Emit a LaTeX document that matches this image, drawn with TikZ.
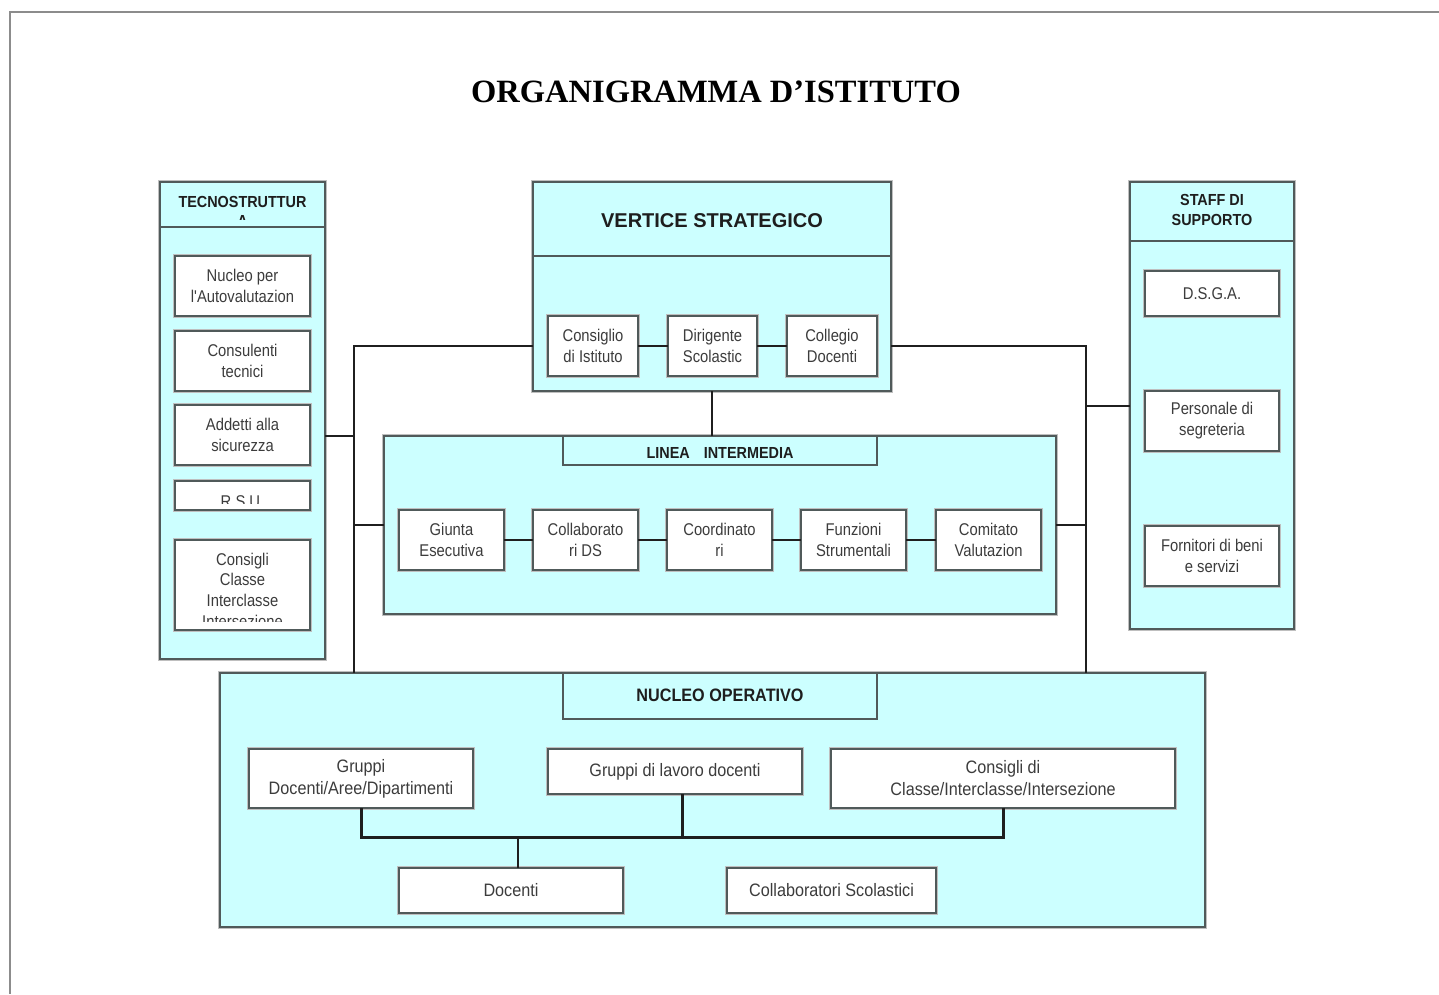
\documentclass[tikz,border=0pt]{standalone}
\usepackage{fontspec}
\setmainfont{Liberation Serif}
\newfontfamily\bxf[FakeStretch=0.87]{Liberation Sans}
\newfontfamily\hdf[FakeStretch=0.9]{Liberation Sans}
\newfontfamily\vsf{Liberation Sans}
\newcommand{\boxfont}{\bxf\fontsize{17}{21}\selectfont}
\newcommand{\nucfont}{\hdf\fontsize{18}{22}\selectfont}
\newcommand{\headfont}{\hdf\bfseries\fontsize{16}{20}\selectfont}
\definecolor{cyanfill}{RGB}{204,255,255}
\definecolor{bordc}{RGB}{80,90,90}
\definecolor{txtc}{RGB}{60,60,60}
\definecolor{hdc}{RGB}{30,30,30}
\newcommand{\rbox}[7][]{\node[#1, minimum width={#5-#3}, minimum height={#6-#4}] (#2) at ({(#3+#5)/2},{(#4+#6)/2}) {#7};}
\begin{document}
\begin{tikzpicture}[x=1pt,y=-1pt,
  outerbox/.style={draw=bordc, line width=1.5pt, fill=cyanfill, inner sep=0pt, outer sep=0pt,
    preaction={draw=black!25, line width=3.5pt}},
  inbox/.style={draw=bordc, line width=1.5pt, fill=white, inner sep=0pt, outer sep=0pt,
    align=center, text=txtc, font=\boxfont, preaction={draw=black!25, line width=3.5pt}},
  nbox/.style={inbox, font=\nucfont},
  hdrbox/.style={draw=bordc, line width=1.5pt, fill=cyanfill, inner sep=0pt, outer sep=0pt},
  divider/.style={draw=bordc, line width=1.5pt},
  lbl/.style={inner sep=0pt, outer sep=0pt, align=center},
  hlbl/.style={lbl, text=hdc, font=\headfont},
  link/.style={draw=black!88, line width=2pt, line join=miter},
  thicklink/.style={draw=black!88, line width=3pt, line join=miter}
]
\useasboundingbox (0,0) rectangle (1439,994);
\fill[white] (0,0) rectangle (1439,994);
% page edge
\draw[black!45, line width=2pt] (1439,12) -- (10,12) -- (10,994);

% title
\node[lbl, font=\bfseries\fontsize{32.5}{38}\selectfont, text=black] (title) at (716,92) {ORGANIGRAMMA D’ISTITUTO};

% outer boxes
\rbox[outerbox]{tec}{160}{182}{325}{659}{}
\rbox[outerbox]{ver}{533}{182}{891}{391}{}
\rbox[outerbox]{lin}{384}{436}{1056}{614}{}
\rbox[outerbox]{sta}{1130}{182}{1294}{629}{}
\rbox[outerbox]{nuc}{220}{673}{1205}{927}{}

% dividers / headers
\draw[divider] (tec.west |- 0,227) -- (tec.east |- 0,227);
\draw[divider] (ver.west |- 0,256) -- (ver.east |- 0,256);
\draw[divider] (sta.west |- 0,241) -- (sta.east |- 0,241);
\rbox[hdrbox]{lhd}{563}{436}{877}{465}{}
\rbox[hdrbox]{nhd}{563}{673}{877}{719}{}

\begin{scope}
  \clip (161,183) rectangle (324,219.5);
  \node[hlbl, font=\hdf\bfseries\fontsize{16}{18.4}\selectfont, anchor=north] (ttitle) at (242.5,196.8) {TECNOSTRUTTUR\\A};
\end{scope}
\node[lbl, text=hdc, font=\vsf\bfseries\fontsize{20}{24}\selectfont] (vtitle) at (712,221) {VERTICE STRATEGICO};
\node[hlbl] (stitle) at (1212,210) {STAFF DI\\SUPPORTO};
\node[hlbl] (ltitle) at (720,452.5) {LINEA\hspace{14pt}INTERMEDIA};
\node[lbl, text=hdc, font=\hdf\bfseries\fontsize{18}{22}\selectfont] (ntitle) at (720,695.5) {NUCLEO OPERATIVO};

% tecnostruttura
\rbox[inbox]{t1}{175}{256}{310}{316}{Nucleo per\\l'Autovalutazion}
\rbox[inbox]{t2}{175}{331}{310}{391}{Consulenti\\tecnici}
\rbox[inbox]{t3}{175}{405}{310}{465}{Addetti alla\\sicurezza}
\rbox[inbox]{t4}{175}{481}{310}{510}{}
\rbox[inbox]{t5}{175}{540}{310}{630}{}
\begin{scope}
  \clip (176,482) rectangle (309,503.5);
  \node[lbl, text=txtc, font=\boxfont, anchor=base] (t4txt) at (242.5,507.5) {R.S.U.};
\end{scope}
\begin{scope}
  \clip (176,541) rectangle (309,621.7);
  \node[lbl, text=txtc, font=\bxf\fontsize{17}{20.7}\selectfont, anchor=north] (t5txt) at (242.5,552.8) {Consigli\\Classe\\Interclasse\\Intersezione};
\end{scope}

% vertice strategico
\rbox[inbox]{v1}{548}{316}{638}{376}{Consiglio\\di Istituto}
\rbox[inbox]{v2}{668}{316}{757}{376}{Dirigente\\Scolastic}
\rbox[inbox]{v3}{787}{316}{877}{376}{Collegio\\Docenti}

% linea intermedia
\rbox[inbox]{l1}{399}{510}{504}{570}{Giunta\\Esecutiva}
\rbox[inbox]{l2}{533}{510}{638}{570}{Collaborato\\ri DS}
\rbox[inbox]{l3}{667}{510}{772}{570}{Coordinato\\ri}
\rbox[inbox]{l4}{801}{510}{906}{570}{Funzioni\\Strumentali}
\rbox[inbox]{l5}{936}{510}{1041}{570}{Comitato\\Valutazion}

% staff
\rbox[inbox]{s1}{1145}{271}{1279}{316}{D.S.G.A.}
\rbox[inbox]{s2}{1145}{391}{1279}{451}{Personale di\\segreteria}
\rbox[inbox]{s3}{1145}{526}{1279}{586}{Fornitori di beni\\e servizi}

% nucleo operativo
\rbox[nbox]{n1}{249}{749}{473}{808}{Gruppi\\Docenti/Aree/Dipartimenti}
\rbox[nbox]{n2}{548}{749}{802}{794}{Gruppi di lavoro docenti}
\rbox[nbox]{n3}{831}{749}{1175}{808}{Consigli di\\Classe/Interclasse/Intersezione}
\rbox[nbox]{n4}{399}{868}{623}{913}{Docenti}
\rbox[nbox]{n5}{727}{868}{936}{913}{Collaboratori Scolastici}

% connectors
\coordinate (lbus) at (354,346);
\coordinate (rbus) at (1085.5,346);
\coordinate (tj) at (354,435.5);
\draw[link] (ver.west |- v1.west) -- (lbus) -- (lbus |- nuc.north);
\draw[link] (tj -| tec.east) -- (tj);
\draw[link] (lin.west) -- (lin.west -| lbus);
\draw[link] (ver.east |- v3.east) -- (rbus) -- (rbus |- nuc.north);
\draw[link] (sta.west) -- (sta.west -| rbus);
\draw[link] (lin.east) -- (lin.east -| rbus);
\draw[link] (ver.south) -- (ver.south |- lhd.north);
\draw[link] (v1.east) -- (v2.west);
\draw[link] (v2.east) -- (v3.west);
\draw[link] (l1.east) -- (l2.west);
\draw[link] (l2.east) -- (l3.west);
\draw[link] (l3.east) -- (l4.west);
\draw[link] (l4.east) -- (l5.west);

\coordinate (bar) at (361,837.5);
\coordinate (bm) at (682.3,837.5);
\coordinate (dm) at (518.3,837.5);
\draw[thicklink] (n1.south) -- (n1.south |- bar) -- (n3.south |- bar) -- (n3.south);
\draw[thicklink] (bm |- n2.south) -- (bm);
\draw[link] (dm) -- (dm |- n4.north);
\end{tikzpicture}
\end{document}
